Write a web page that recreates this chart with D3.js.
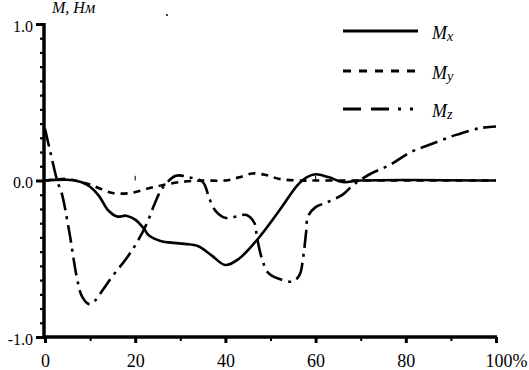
<!DOCTYPE html>
<html><head><meta charset="utf-8">
<script src="https://cdn.jsdelivr.net/npm/d3@7"></script>
<style>body{margin:0;background:#fff}svg{display:block}text{font-family:"Liberation Serif","DejaVu Serif",serif}</style>
</head><body>
<svg id="c" width="529" height="370"></svg>
<script>
const xTickValues = [0, 20, 40, 60, 80, 100];
const xTickLabels = ["0", "20", "40", "60", "80", "100%"];
const yTickValues = [1, 0, -1];
const yTickLabels = ["1.0", "0.0", "-1.0"];
const seriesNames = ["Mx", "My", "Mz"];
const mxX = [0, 5, 8, 10, 12, 14, 16, 18, 20, 22, 23, 26, 28, 31, 34, 37, 40, 43, 47, 52, 56, 58, 60, 63, 66, 70, 100];
const mxY = [0, 0.005, -0.01, -0.04, -0.1, -0.19, -0.23, -0.225, -0.25, -0.31, -0.35, -0.39, -0.397, -0.405, -0.42, -0.48, -0.54, -0.5, -0.38, -0.19, -0.03, 0.02, 0.04, 0.02, -0.01, 0, 0];
const myX = [0, 5, 8, 10, 12, 15, 19, 23, 26, 30, 35, 40, 43, 46, 49, 52, 56, 60, 100];
const myY = [0, 0.01, -0.01, -0.025, -0.05, -0.08, -0.08, -0.05, -0.03, -0.01, 0, 0.0, 0.02, 0.045, 0.035, 0.01, 0, 0, 0];
const mzX = [0, 1.2, 2.8, 3.7, 5.4, 7, 8.2, 9.8, 11, 12.8, 15, 18, 20.3, 22.5, 24.3, 26, 29, 32, 35, 36.5, 38, 40.2, 42.5, 44.7, 46.4, 47, 48, 49.5, 52, 55, 56.5, 57.2, 57.9, 58.3, 60, 62.5, 66, 68.3, 72, 76.5, 81, 85.4, 91, 96.5, 100];
const mzY = [0.33, 0.18, -0.01, -0.08, -0.33, -0.61, -0.74, -0.79, -0.77, -0.7, -0.61, -0.5, -0.4, -0.28, -0.15, -0.05, 0.03, 0.02, -0.01, -0.12, -0.2, -0.24, -0.23, -0.22, -0.27, -0.36, -0.49, -0.59, -0.63, -0.645, -0.6, -0.5, -0.33, -0.23, -0.17, -0.14, -0.09, -0.03, 0.04, 0.1, 0.18, 0.23, 0.29, 0.335, 0.345];

const svg = d3.select("#c");
const x = d3.scaleLinear().domain([0, 100]).range([45, 496]);
const y = d3.scaleLinear().domain([-1, 1]).range([337, 24]);
const serif = "'Liberation Serif','DejaVu Serif',serif";

// series
const line = d3.line().x(d => x(d[0])).y(d => y(d[1])).curve(d3.curveCatmullRom.alpha(0.5));
const series = [
  {name: "Mx", pts: d3.zip(mxX, mxY), dash: null},
  {name: "My", pts: d3.zip(myX, myY), dash: "7,6"},
  {name: "Mz", pts: d3.zip(mzX, mzY), dash: "18,6,3,6"}
];
series.forEach(s => {
  svg.append("path").attr("d", line(s.pts)).attr("fill", "none")
    .attr("stroke", "#000").attr("stroke-width", 2.6)
    .attr("stroke-dasharray", s.dash);
});

// axes
const gx = svg.append("g").attr("transform", `translate(0,${y(-1)})`);
gx.call(d3.axisBottom(x).tickValues(xTickValues).tickFormat((d, i) => xTickLabels[i]).tickSize(6).tickPadding(11));
gx.select(".domain").attr("d", `M${x(0)-2},0H${x(100)+1}`).attr("stroke-width", 3.5);
gx.selectAll(".tick line").attr("stroke-width", 3);
gx.selectAll(".tick text").style("font-family", serif).attr("font-size", 18).attr("fill", "#000");
gx.selectAll(".tick").filter(d => d === 100).select("text").attr("text-anchor", "start").attr("dx", -11);
const gxm = svg.append("g").attr("transform", `translate(0,${y(-1)})`);
gxm.call(d3.axisBottom(x).tickValues([10, 30, 50, 70, 90]).tickFormat("").tickSize(4));
gxm.select(".domain").remove();
gxm.selectAll(".tick line").attr("stroke-width", 2);

const gy = svg.append("g").attr("transform", `translate(${x(0)-1},0)`);
gy.call(d3.axisLeft(y).tickValues(yTickValues).tickFormat((d, i) => yTickLabels[i]).tickSize(8).tickPadding(3));
gy.select(".domain").attr("d", `M0,${y(1)-1}V${y(-1)+2}`).attr("stroke-width", 3.5);
gy.selectAll(".tick line").attr("stroke-width", 3);
gy.selectAll(".tick text").style("font-family", serif).attr("font-size", 16).attr("fill", "#000").attr("dy", "0.45em");
const minorY = d3.range(1, 22).filter(i => i !== 11).map(i => 1 - i * 2 / 22);
const gym = svg.append("g").attr("transform", `translate(${x(0)-1},0)`);
gym.call(d3.axisLeft(y).tickValues(minorY).tickFormat("").tickSize(4));
gym.select(".domain").remove();
gym.selectAll(".tick line").attr("stroke-width", 2.2);

// small marks on zero line
[20, 60].forEach(v => svg.append("line").attr("x1", x(v)).attr("x2", x(v))
  .attr("y1", y(0.03)).attr("y2", y(0)).attr("stroke", "#000").attr("stroke-width", 1));

// title
svg.append("text").attr("x", 52).attr("y", 13).style("font-family", serif)
  .attr("font-style", "italic").attr("font-size", 16).text("M, Нм");
svg.append("circle").attr("cx", 167).attr("cy", 15).attr("r", 1).attr("fill", "#000");

// legend
const legY = [31, 71, 109];
series.forEach((s, i) => {
  svg.append("line").attr("x1", 343).attr("x2", 418).attr("y1", legY[i]).attr("y2", legY[i])
    .attr("stroke", "#000").attr("stroke-width", 3)
    .attr("stroke-dasharray", i === 0 ? null : (i === 1 ? "8,8" : "18,10,18,9,3,9,3,9"));
  const t = svg.append("text").attr("x", 432).attr("y", legY[i] + 8)
    .style("font-family", serif).attr("font-style", "italic").attr("font-size", 18);
  t.append("tspan").text(seriesNames[i][0]);
  t.append("tspan").attr("font-size", 14).attr("dy", 2).text(seriesNames[i].slice(1));
});
</script>
</body></html>
